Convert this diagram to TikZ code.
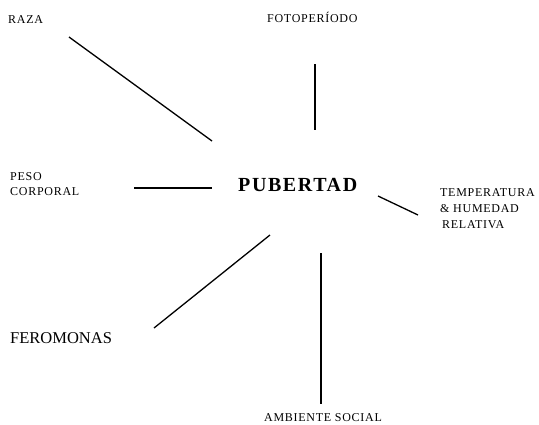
\documentclass[tikz,border=0pt]{standalone}
\usepackage{fontspec}
\setmainfont{Liberation Serif}
\newfontfamily\tracked[LetterSpace=6]{Liberation Serif}
\usetikzlibrary{positioning}

\tikzset{
  factor/.style={inner sep=0pt,anchor=base west,align=left,font=\tracked\fontsize{12}{15}\selectfont},
  link/.style={line width=1.3pt,line cap=butt},
}

\begin{document}
\begin{tikzpicture}[x=1pt,y=-1pt]
\useasboundingbox (0,0) rectangle (539,424);
% centre
\node[inner sep=0pt,anchor=base west,font=\tracked\addfontfeatures{LetterSpace=8}\fontsize{20}{22}\selectfont\bfseries] (pubertad) at (238,191) {PUBERTAD};
% factors (multi-line nodes sit on their last line)
\node[factor] (raza) at (8,23) {RAZA};
\node[factor] (foto) at (267,22) {FOTOPERÍODO};
\node[factor] (peso) at (10,195) {PESO\\CORPORAL};
\node[factor,font=\tracked\fontsize{12}{16}\selectfont] (temp) at (440,228) {TEMPERATURA\\\& HUMEDAD\\\hspace{2pt}RELATIVA};
\node[inner sep=0pt,anchor=base west,font=\fontsize{16.5}{18}\selectfont] (fero) at (10,343) {FEROMONAS};
\node[factor] (ambiente) at (264,421) {AMBIENTE SOCIAL};
% line ends
\coordinate (raza-a) at (69,37);   \coordinate (raza-b) at (212,141);
\coordinate (foto-a) at (315,64);  \coordinate (foto-b) at (315,130);
\coordinate (peso-a) at (134,188); \coordinate (peso-b) at (212,188);
\coordinate (temp-a) at (378,196); \coordinate (temp-b) at (418,215);
\coordinate (fero-a) at (154,328); \coordinate (fero-b) at (270,235);
\coordinate (amb-a) at (321,253);  \coordinate (amb-b) at (321,404);
\draw[link] (raza-a) -- (raza-b);
\draw[link] (foto-a) -- (foto-b);
\draw[link] (peso-a) -- (peso-b);
\draw[link] (temp-a) -- (temp-b);
\draw[link] (fero-a) -- (fero-b);
\draw[link] (amb-a) -- (amb-b);
\end{tikzpicture}
\end{document}
